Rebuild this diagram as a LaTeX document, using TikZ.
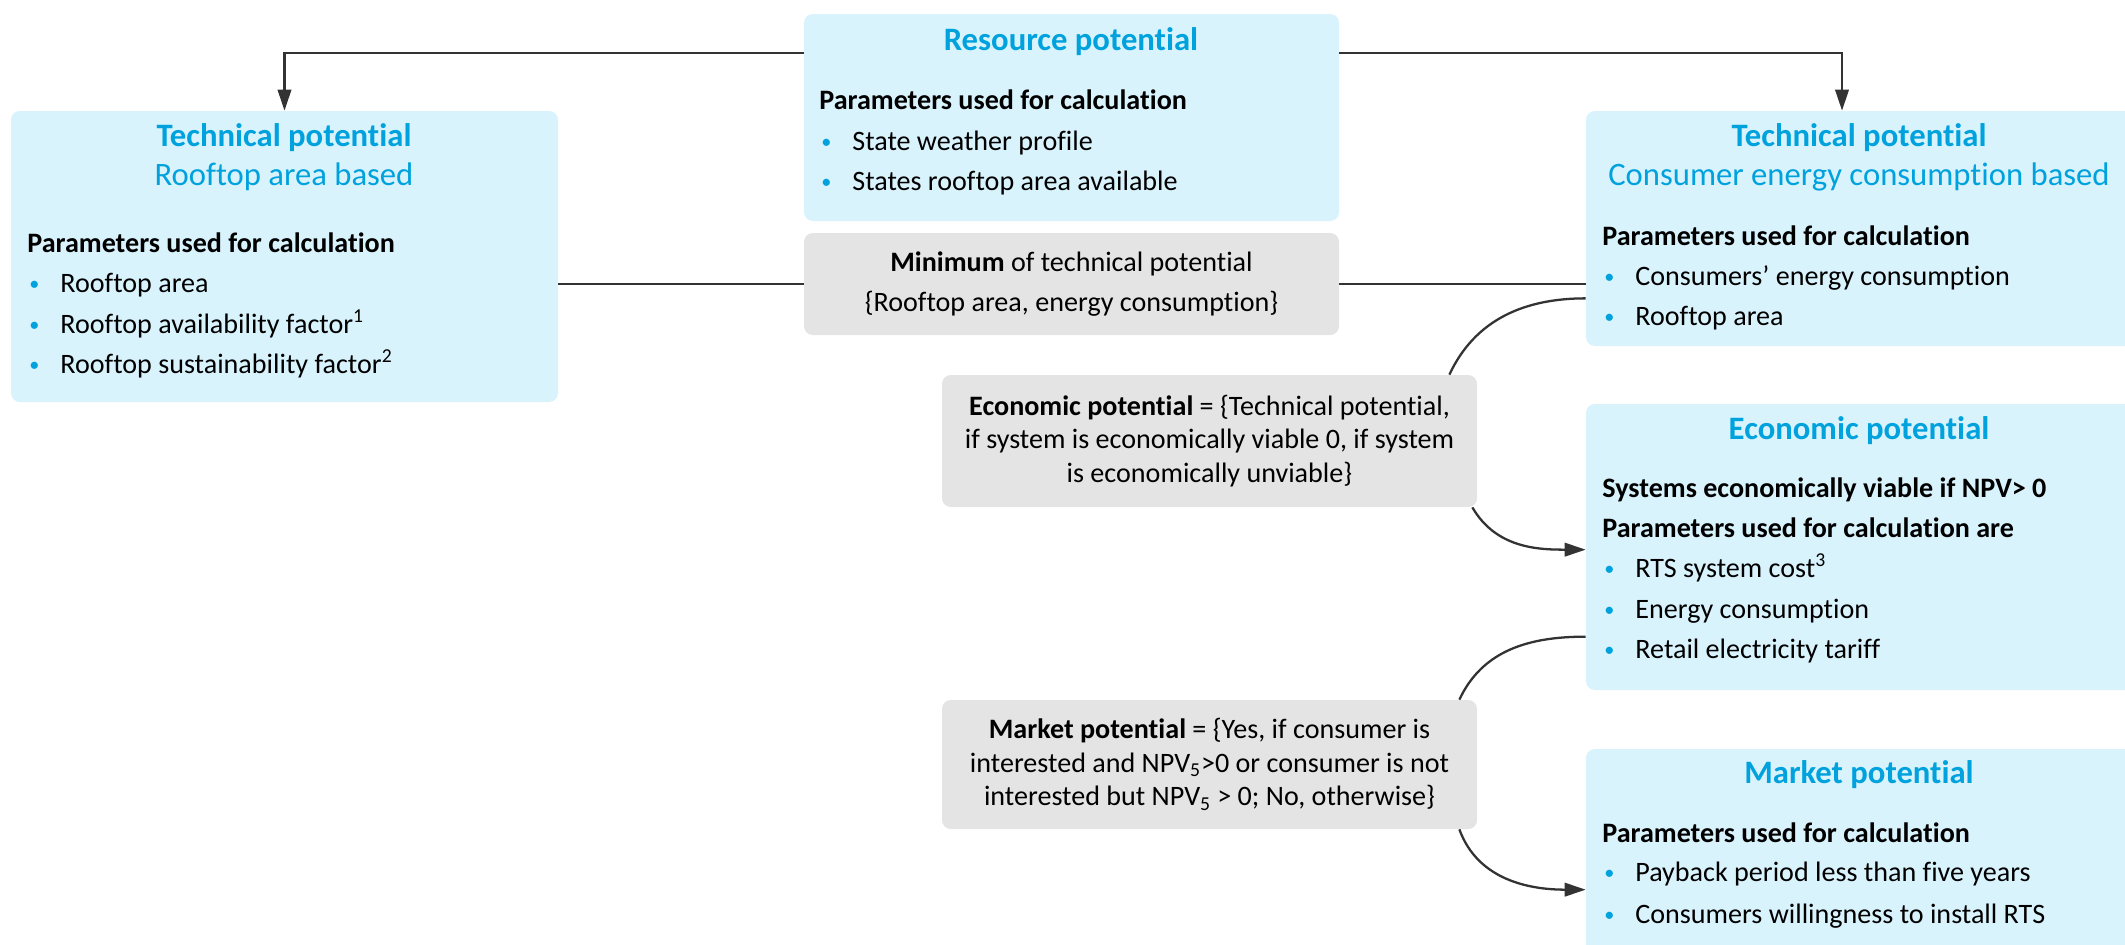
\documentclass[tikz,border=0pt]{standalone}
\usepackage{fontspec}
\setmainfont{Carlito}[Ligatures={TeX,NoCommon}]
\usepackage{xcolor}
\usepackage{graphicx}
\usepackage{tikz}
\usetikzlibrary{arrows.meta, positioning, fit, calc}
\definecolor{paleblue}{HTML}{D9F3FD}
\definecolor{titleblue}{HTML}{00A2DE}
\definecolor{palegrey}{HTML}{E4E4E4}
\definecolor{inkgrey}{HTML}{333333}
\tikzset{
  % Boxes
  infobox/.style={rectangle, rounded corners=5pt, fill=paleblue, inner sep=0pt},
  rulebox/.style={rectangle, rounded corners=5pt, fill=palegrey, inner sep=0pt},
  % Box texts
  boxtitle/.style={inner sep=0pt, text height=0.66em, text depth=0pt,
    text=titleblue, font=\fontsize{18.6}{22}\selectfont\bfseries},
  boxsubtitle/.style={boxtitle, font=\fontsize{18.6}{22}\selectfont},
  paramhead/.style={inner sep=0pt, anchor=west, text height=0.66em, text depth=0pt,
    font=\fontsize{16}{19}\selectfont\bfseries},
  paramitem/.style={paramhead, font=\fontsize{16}{19}\selectfont,
    execute at begin node={\makebox[0.66cm][l]{\hspace{0.04cm}\textcolor{titleblue}{\raisebox{0.08em}{\scalebox{0.72}{\textbullet}}}}}},
  ruletext/.style={inner sep=0pt, align=center, font=\fontsize{16}{19}\selectfont},
  % Connectors
  link/.style={line width=1.3pt, draw=inkgrey},
  flow/.style={link, -{Triangle[length=0.42cm, width=0.27cm]}},
}

\begin{document}
\begin{tikzpicture}[x=0.02cm, y=0.02cm]
  \useasboundingbox (0,0) rectangle (2125,-944);

  % blue boxes
  \node[infobox, fit={(804,-14) (1339,-221)}] (res) {};
  \node[infobox, fit={(11,-111) (558,-402)}] (techL) {};
  \node[infobox, fit={(1586,-111) (2135,-346)}] (techR) {};
  \node[infobox, fit={(1586,-404) (2135,-690)}] (econB) {};
  \node[infobox, fit={(1586,-749) (2135,-960)}] (mktB) {};
  % grey boxes
  \node[rulebox, fit={(804,-233) (1339,-335)}] (minbox) {};
  \node[rulebox, fit={(942,-375) (1477,-507)}] (econG) {};
  \node[rulebox, fit={(942,-700) (1477,-829)}] (mktG) {};

  % resource potential
  \node[boxtitle] (res-title) at (1071,-45) {Resource potential};
  \node[paramhead] (res-head) at (819,-104) {Parameters used for calculation};
  \foreach \entry [count=\i from 0] in {State weather profile, States rooftop area available}
    \node[paramitem] (res-item\i) at (819,{-145-40*\i}) {\entry};

  % technical potential, rooftop
  \node[boxtitle] (techL-title) at (284,-141) {Technical potential};
  \node[boxsubtitle] (techL-sub) at (284,-180) {Rooftop area based};
  \node[paramhead] (techL-head) at (27,-247) {Parameters used for calculation};
  \foreach \entry [count=\i from 0] in {Rooftop area,
      Rooftop availability factor\textsuperscript{1},
      Rooftop sustainability factor\textsuperscript{2}}
    \node[paramitem] (techL-item\i) at (27,{-287-40.5*\i}) {\entry};

  % technical potential, consumption
  \node[boxtitle] (techR-title) at (1859,-141) {Technical potential};
  \node[boxsubtitle] (techR-sub) at (1859,-180) {Consumer energy consumption based};
  \node[paramhead] (techR-head) at (1602,-240) {Parameters used for calculation};
  \foreach \entry [count=\i from 0] in {Consumers'{} energy consumption, Rooftop area}
    \node[paramitem] (techR-item\i) at (1602,{-280-40*\i}) {\entry};

  % economic potential
  \node[boxtitle] (econB-title) at (1859,-434) {Economic potential};
  \node[paramhead] (econB-head) at (1602,-492) {Systems economically viable if NPV> 0};
  \node[paramhead] (econB-head2) at (1602,-532) {Parameters used for calculation are};
  \foreach \entry [count=\i from 0] in {RTS system cost\textsuperscript{3},
      Energy consumption, Retail electricity tariff}
    \node[paramitem] (econB-item\i) at (1602,{-572-40.5*\i}) {\entry};

  % market potential
  \node[boxtitle] (mktB-title) at (1859,-778) {Market potential};
  \node[paramhead] (mktB-head) at (1602,-837) {Parameters used for calculation};
  \foreach \entry [count=\i from 0] in {Payback period less than five years,
      Consumers willingness to install RTS}
    \node[paramitem] (mktB-item\i) at (1602,{-876-42*\i}) {\entry};

  % rules
  \node[ruletext, font=\fontsize{16}{22.8}\selectfont] (min-text) at (minbox.center)
    {\textbf{Minimum} of technical potential\\\{Rooftop area, energy consumption\}};
  \node[ruletext] (econ-text) at (econG.center)
    {\textbf{Economic potential} = \{Technical potential,\\
     if system is economically viable 0, if system\\
     is economically unviable\}};
  \node[ruletext] (mkt-text) at (mktG.center)
    {\textbf{Market potential} = \{Yes, if consumer is\\
     interested and NPV\textsubscript{5}>0 or consumer is not\\
     interested but NPV\textsubscript{5} > 0; No, otherwise\}};

  % connectors
  \draw[flow] ($(res.north west)+(0,-39)$) -| (techL.north);
  \draw[flow] ($(res.north east)+(0,-39)$) -| ([xshift=-0.37cm]techR.north);
  \draw[link] (minbox.west) -- (minbox.west -| techL.east);
  \draw[link] (minbox.east) -- (minbox.east -| techR.west);
  \draw[link] ($(techR.south west)+(0,48)$) to[out=180, in=65] ($(econG.north east)+(-28,0)$);
  \draw[flow] ($(econG.south east)+(-5,0)$) to[out=-60, in=180] ($(econB.north west)+(0,-146)$);
  \draw[link] ($(econB.north west)+(0,-233)$) to[out=180, in=65] ($(mktG.north east)+(-18,0)$);
  \draw[flow] ($(mktG.south east)+(-18,0)$) to[out=-70, in=180] ($(mktB.north west)+(0,-141)$);
\end{tikzpicture}
\end{document}
